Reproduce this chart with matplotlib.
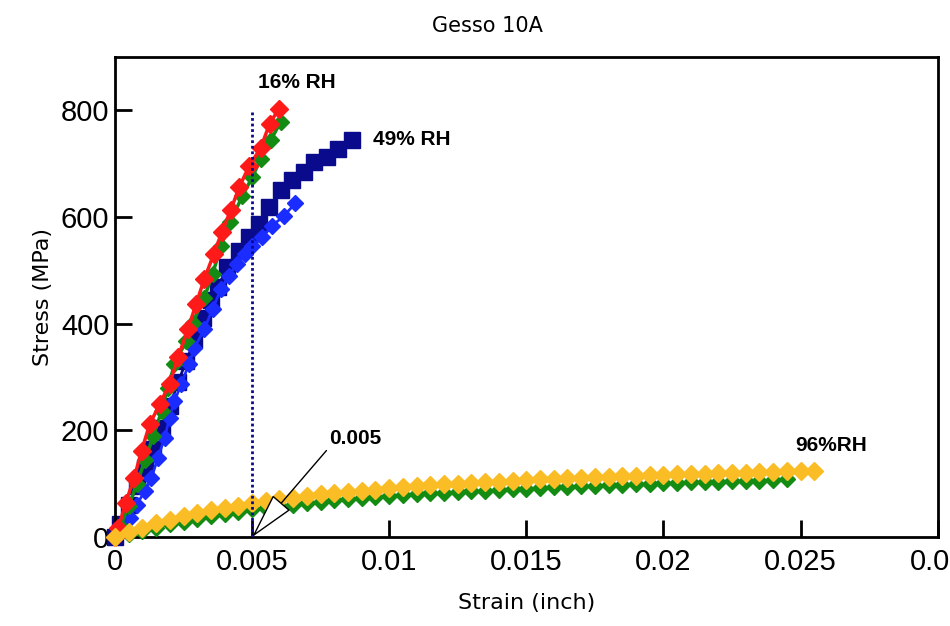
import matplotlib.pyplot as plt
from matplotlib import font_manager

# 16% RH, two samples (strain in inch, stress in MPa)
strain_16_red = [0, 0.00012, 0.00039, 0.0007, 0.00097, 0.00127, 0.00163, 0.00199, 0.0023, 0.00266,
                 0.00296, 0.00326, 0.0036, 0.0039, 0.00423, 0.00453, 0.00489, 0.00532, 0.00564, 0.00598]
stress_16_red = [0, 17, 64, 111, 162, 212, 249, 287, 337, 390,
                 437, 484, 530, 572, 614, 656, 695, 730, 775, 803]
strain_16_green = [0, 0.0002, 0.0005, 0.0008, 0.0011, 0.0014, 0.0017, 0.00193, 0.00217, 0.0026,
                   0.00284, 0.00326, 0.00356, 0.00387, 0.0042, 0.00465, 0.00501, 0.00532, 0.00568, 0.00604]
stress_16_green = [0, 20, 58, 100, 145, 190, 236, 280, 324, 368,
                   402, 449, 493, 546, 590, 640, 675, 709, 744, 778]

# 49% RH
strain_49_navy = [0, 0.0002, 0.0005, 0.0008, 0.0011, 0.0014, 0.0017, 0.002, 0.0023, 0.0026,
                  0.0029, 0.0032, 0.0035, 0.00374, 0.0041, 0.00453, 0.00489, 0.00525, 0.00562, 0.00604,
                  0.00646, 0.00688, 0.00725, 0.00773, 0.00815, 0.00864]
stress_49_navy = [0, 25, 60, 95, 130, 165, 205, 245, 290, 330,
                  370, 410, 445, 468, 506, 537, 562, 587, 618, 650,
                  669, 684, 703, 712, 728, 744]
strain_49_blue = [0, 0.00024, 0.00054, 0.00079, 0.00109, 0.00133, 0.00157, 0.00181, 0.00199, 0.00217,
                  0.00242, 0.0027, 0.0029, 0.00326, 0.00356, 0.00387, 0.00415, 0.00445, 0.00475, 0.00501,
                  0.00537, 0.00574, 0.00616, 0.00658]
stress_49_blue = [0, 17, 36, 61, 86, 111, 149, 186, 224, 255,
                  287, 325, 355, 390, 428, 465, 490, 512, 530, 545,
                  562, 584, 602, 626]

# 96% RH
strain_96_yellow = [0, 0.0005, 0.001, 0.0015, 0.002, 0.0025, 0.003, 0.0035, 0.004, 0.0045,
                    0.005, 0.0055, 0.006, 0.0065, 0.007, 0.0075, 0.008, 0.0085, 0.009, 0.0095,
                    0.01, 0.0105, 0.011, 0.0115, 0.012, 0.0125, 0.013, 0.0135, 0.014, 0.0145,
                    0.015, 0.0155, 0.016, 0.0165, 0.017, 0.0175, 0.018, 0.0185, 0.019, 0.0195,
                    0.02, 0.0205, 0.021, 0.0215, 0.022, 0.0225, 0.023, 0.0235, 0.024, 0.0245,
                    0.025, 0.0255]
stress_96_yellow = [0, 10, 18, 26, 33, 39, 45, 50, 55, 59,
                    64, 68, 71, 74, 77, 80, 82, 85, 87, 89,
                    92, 94, 96, 97, 99, 100, 102, 103, 104, 106,
                    107, 108, 109, 110, 111, 112, 113, 114, 115, 116,
                    117, 118, 118, 119, 120, 120, 121, 122, 122, 123,
                    124, 124]
strain_96_green = [0, 0.0005, 0.001, 0.0015, 0.002, 0.0025, 0.003, 0.0035, 0.004, 0.0045,
                   0.005, 0.0055, 0.006, 0.0065, 0.007, 0.0075, 0.008, 0.0085, 0.009, 0.0095,
                   0.01, 0.0105, 0.011, 0.0115, 0.012, 0.0125, 0.013, 0.0135, 0.014, 0.0145,
                   0.015, 0.0155, 0.016, 0.0165, 0.017, 0.0175, 0.018, 0.0185, 0.019, 0.0195,
                   0.02, 0.0205, 0.021, 0.0215, 0.022, 0.0225, 0.023, 0.0235, 0.024, 0.0245]
stress_96_green = [0, 6, 12, 18, 24, 29, 34, 39, 43, 47,
                   52, 55, 58, 61, 64, 66, 69, 71, 73, 75,
                   77, 79, 80, 82, 83, 85, 86, 87, 89, 90,
                   91, 92, 93, 94, 95, 96, 97, 98, 99, 100,
                   101, 102, 103, 103, 104, 105, 106, 106, 107, 108]

x_ticks = [0, 0.005, 0.01, 0.015, 0.02, 0.025, 0.03]
x_tick_labels = ["0", "0.005", "0.01", "0.015", "0.02", "0.025", "0.03"]
y_ticks = [0, 200, 400, 600, 800]

RED = "#ff1a1a"
GREEN = "#148c14"
NAVY = "#0a0a8c"
BLUE = "#1a2cff"
YELLOW = "#fbbd26"

installed = {f.name for f in font_manager.fontManager.ttflist}
narrow = "Liberation Sans Narrow" if "Liberation Sans Narrow" in installed else "Liberation Sans"

fig = plt.figure(figsize=(9.5, 6.26), dpi=100)
ax = fig.add_axes([0.121, 0.142, 0.866, 0.767])

ax.plot(strain_49_navy, stress_49_navy, color=NAVY, lw=2, marker="s", ms=11, mec=NAVY, zorder=2, clip_on=False)
ax.plot(strain_49_blue, stress_49_blue, color=BLUE, lw=2, marker="D", ms=8.5, mec=BLUE, zorder=3, clip_on=False)
ax.plot(strain_16_green, stress_16_green, color=GREEN, lw=2.5, marker="D", ms=8, mec=GREEN, zorder=4, clip_on=False)
ax.plot(strain_16_red, stress_16_red, color=RED, lw=2.5, marker="D", ms=9, mec=RED, zorder=5, clip_on=False)
ax.plot(strain_96_green, stress_96_green, color=GREEN, lw=1.5, marker="D", ms=8, mec=GREEN, zorder=4, clip_on=False)
ax.plot(strain_96_yellow, stress_96_yellow, color=YELLOW, lw=1.5, marker="D", ms=9, mec=YELLOW, zorder=5, clip_on=False)

# vertical dotted line at 0.005
ax.plot([0.005, 0.005], [0, 800], color=NAVY, lw=2, ls=(0, (1, 1)), zorder=6)

ax.annotate("0.005", xy=(0.005, 0), xytext=(0.0078, 175), fontsize=15, fontweight="bold",
            family="Liberation Sans", zorder=7,
            arrowprops=dict(arrowstyle="-|>,head_length=2.0,head_width=0.5", fc="white", ec="black",
                            lw=1, shrinkA=0, shrinkB=0, relpos=(0.0, 0.0)))

ax.text(0.0052, 852, "16% RH", fontsize=15, fontweight="bold", family="Liberation Sans", va="center")
ax.text(0.0094, 745, "49% RH", fontsize=15, fontweight="bold", family="Liberation Sans", va="center")
ax.text(0.0248, 172, "96%RH", fontsize=15, fontweight="bold", family="Liberation Sans", va="center")

ax.set_xlim(0, 0.03)
ax.set_ylim(0, 900)
ax.set_xticks(x_ticks)
ax.set_xticklabels(x_tick_labels, family=narrow, fontsize=21)
ax.set_yticks(y_ticks)
ax.set_yticklabels([str(v) for v in y_ticks], family="Liberation Sans", fontsize=21)
ax.tick_params(axis="both", direction="in", length=12, width=2, top=False, right=False)
ax.tick_params(axis="x", pad=8)
ax.tick_params(axis="y", pad=4)
for s in ax.spines.values():
    s.set_linewidth(2)

ax.set_xlabel("Strain (inch)", fontsize=16, family="DejaVu Sans", labelpad=12)
ax.set_ylabel("Stress (MPa)", fontsize=16, family="DejaVu Sans", labelpad=6)
fig.text(0.513, 0.958, "Gesso 10A", ha="center", va="center", fontsize=15, family="DejaVu Sans")

for lab in ax.get_xticklabels() + ax.get_yticklabels():
    lab.set_clip_on(False)

fig.savefig("out.png", dpi=100)
